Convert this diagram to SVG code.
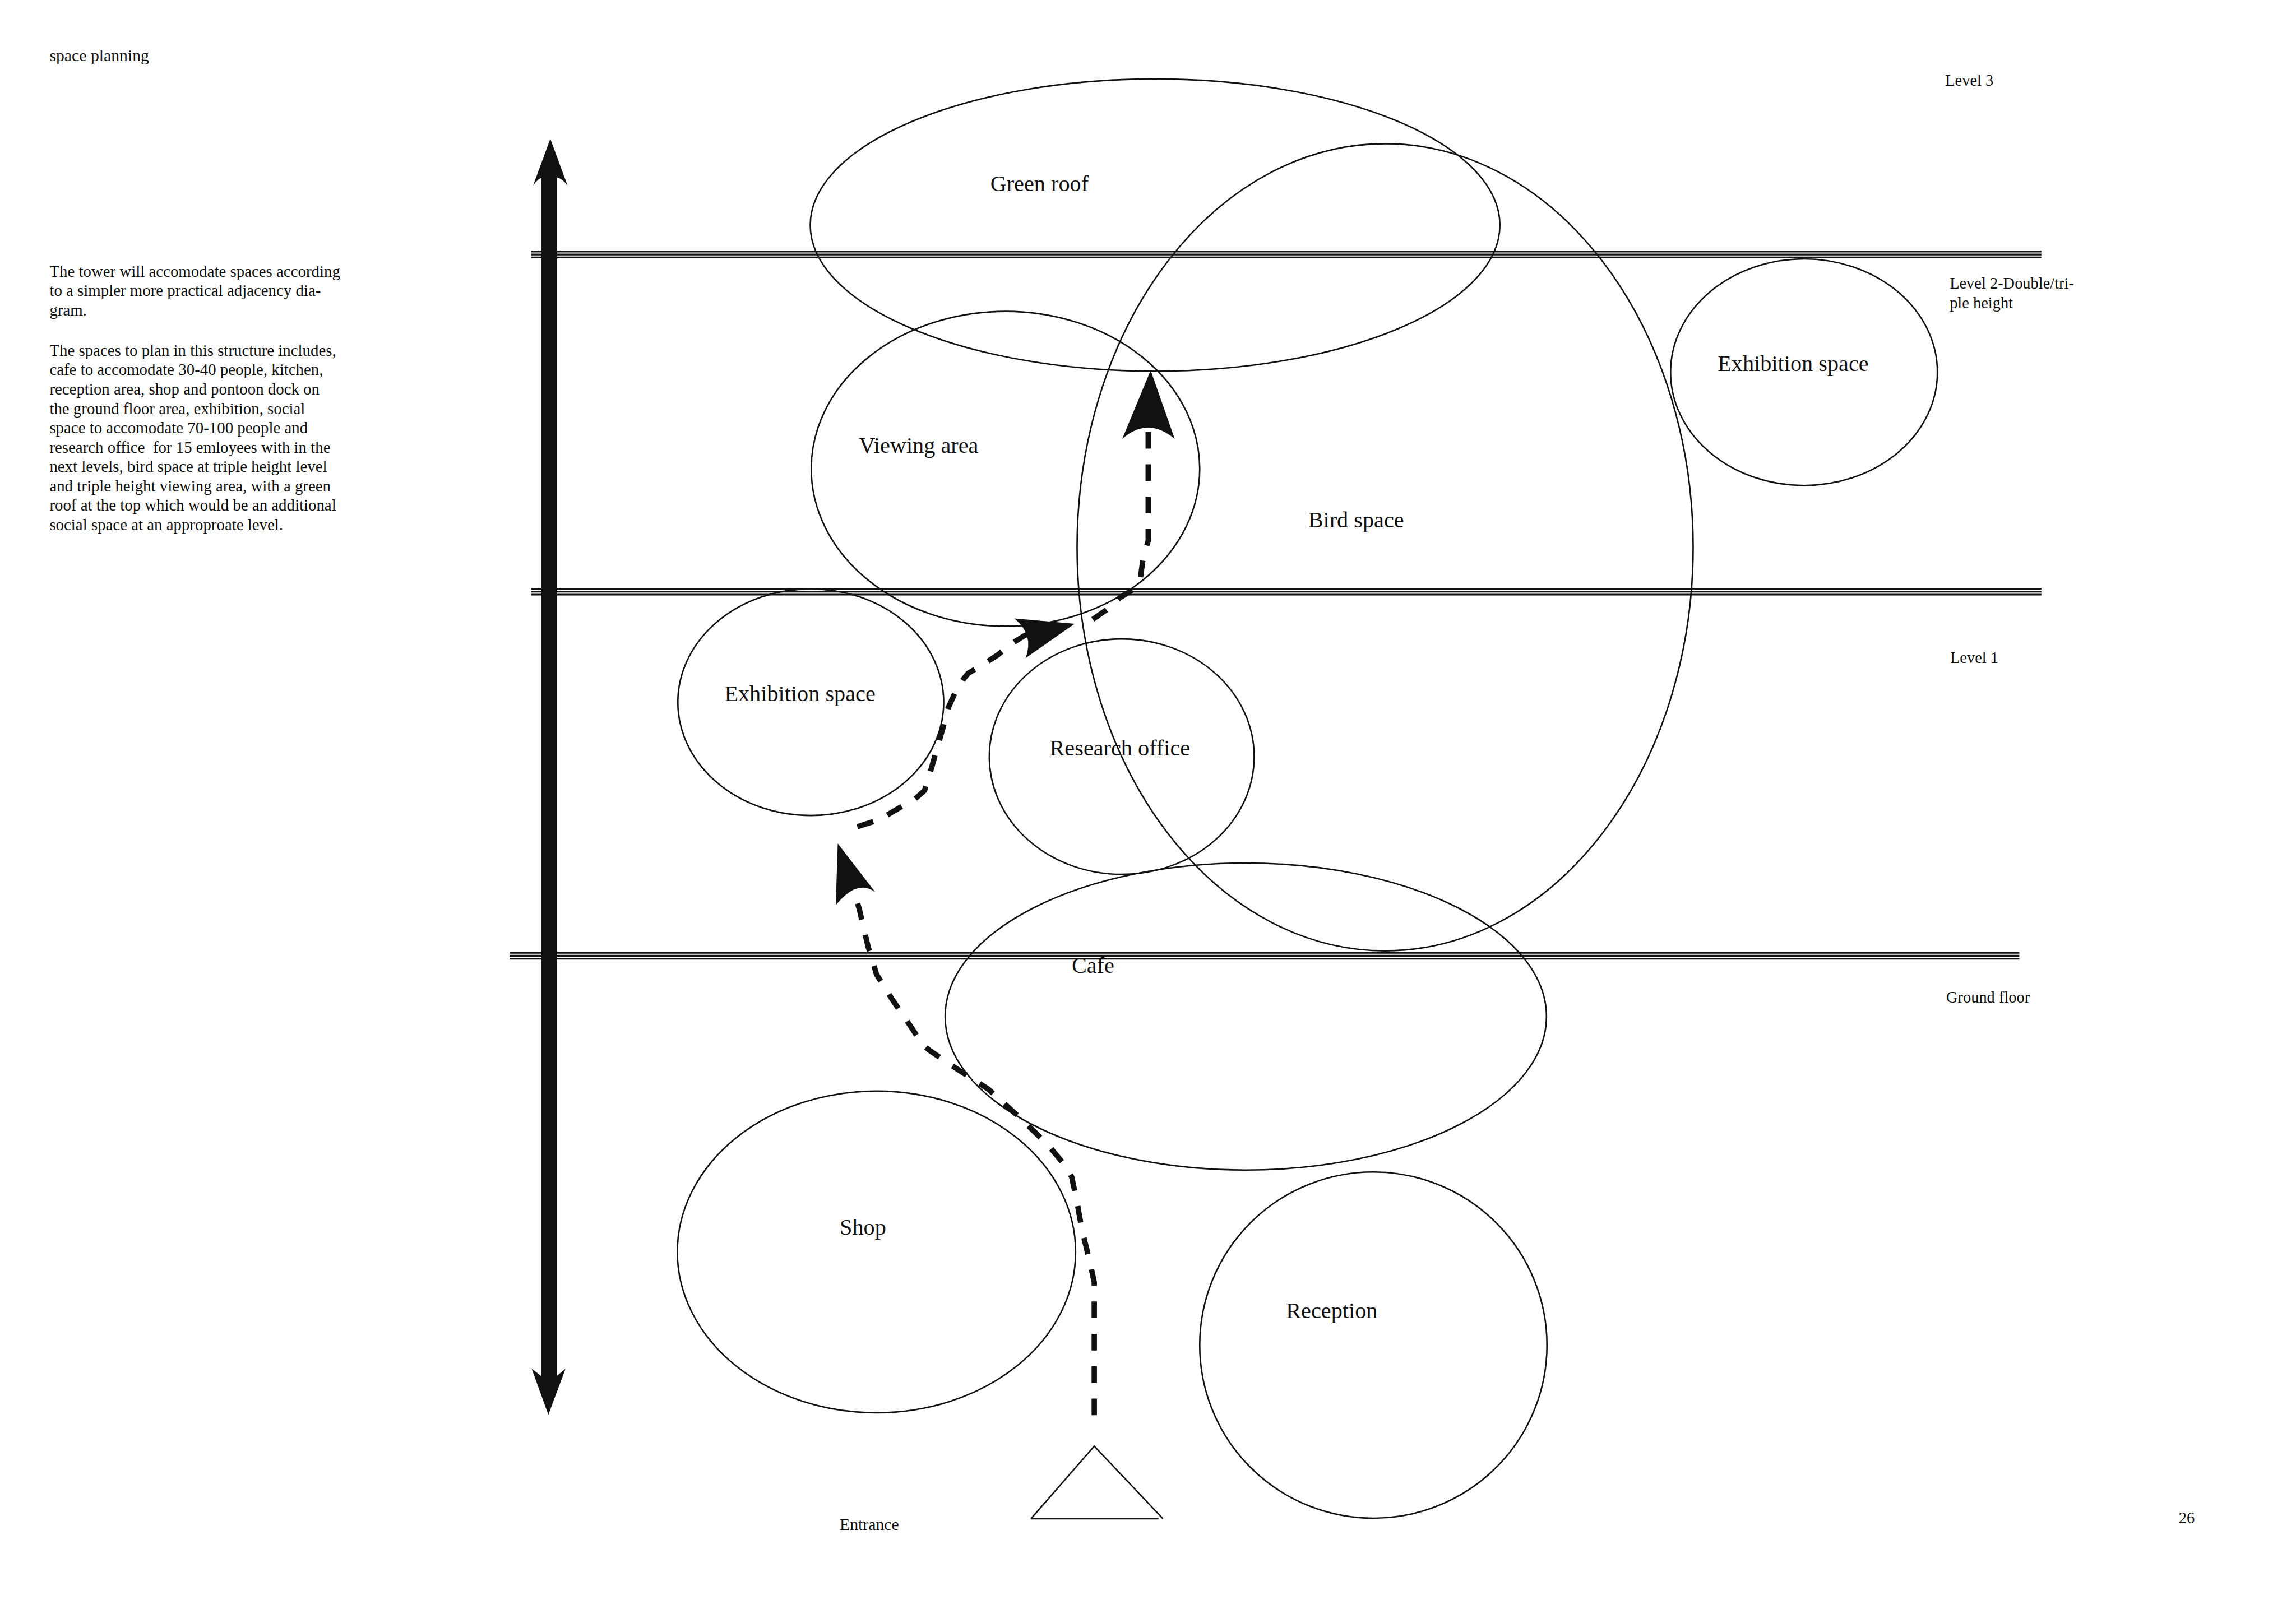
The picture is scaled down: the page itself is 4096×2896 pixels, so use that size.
<svg xmlns="http://www.w3.org/2000/svg" width="4096" height="2896" viewBox="0 0 4096 2896">
<style>
.el{fill:none;stroke:#111;stroke-width:3}
.lv{stroke:#111;stroke-width:3.5}
.dash{fill:none;stroke:#111;stroke-width:11;stroke-dasharray:34 32;stroke-linejoin:round}
.head{fill:#111;stroke:none}
.lbl{font-family:"Liberation Serif","Times New Roman",serif;font-size:46px;fill:#111}
.sm{font-family:"Liberation Serif","Times New Roman",serif;font-size:32.5px;fill:#111}
.body{font-family:"Liberation Serif","Times New Roman",serif;font-size:33px;fill:#111}
</style>
<rect width="4096" height="2896" fill="#fff"/>
<g transform="scale(0.875)">
<g id="page-text">
<text class="sm" x="101" y="125" style="font-size:34px">space planning</text>
<text class="body" xml:space="preserve"><tspan x="101" y="564">The tower will accomodate spaces according</tspan><tspan x="101" y="603.5">to a simpler more practical adjacency dia-</tspan><tspan x="101" y="643">gram.</tspan><tspan x="101" y="725.5">The spaces to plan in this structure includes,</tspan><tspan x="101" y="765">cafe to accomodate 30-40 people, kitchen,</tspan><tspan x="101" y="804.5">reception area, shop and pontoon dock on</tspan><tspan x="101" y="844">the ground floor area, exhibition, social</tspan><tspan x="101" y="883.5">space to accomodate 70-100 people and</tspan><tspan x="101" y="923">research office  for 15 emloyees with in the</tspan><tspan x="101" y="962.5">next levels, bird space at triple height level</tspan><tspan x="101" y="1002">and triple height viewing area, with a green</tspan><tspan x="101" y="1041.5">roof at the top which would be an additional</tspan><tspan x="101" y="1081">social space at an approproate level.</tspan></text>
<text class="sm" x="3966" y="175">Level 3</text>
<text class="sm"><tspan x="3975" y="589">Level 2-Double/tri-</tspan><tspan x="3975" y="628">ple height</tspan></text>
<text class="sm" x="3976" y="1352">Level 1</text>
<text class="sm" x="3968" y="2045">Ground floor</text>
<text class="sm" x="1712" y="3120" style="font-size:34px">Entrance</text>
<text class="sm" x="4442" y="3106">26</text>
</g>
<g id="levels">
<line class="lv" x1="1083" y1="513" x2="4162" y2="513"/>
<line class="lv" x1="1083" y1="519" x2="4162" y2="519"/>
<line class="lv" x1="1083" y1="525" x2="4162" y2="525"/>
<line class="lv" x1="1083" y1="1200.5" x2="4162" y2="1200.5"/>
<line class="lv" x1="1083" y1="1206.5" x2="4162" y2="1206.5"/>
<line class="lv" x1="1083" y1="1212.5" x2="4162" y2="1212.5"/>
<line class="lv" x1="1039" y1="1943" x2="4117" y2="1943"/>
<line class="lv" x1="1039" y1="1949" x2="4117" y2="1949"/>
<line class="lv" x1="1039" y1="1955" x2="4117" y2="1955"/>
</g>
<g id="height-arrow">
<rect x="1104" y="360" width="32" height="2450" fill="#111"/>
<path class="head" d="M1122,283 L1157,378 Q1146,364 1136,362 L1106,362 Q1097,364 1087,378 Z"/>
<path class="head" d="M1084,2791 Q1096,2800 1103,2806 L1135,2806 Q1142,2800 1153,2791 L1118,2885 Z"/>
</g>
<g id="green-roof"><ellipse class="el" cx="2355" cy="459" rx="703" ry="298"/><text class="lbl" x="2019" y="390">Green roof</text></g>
<g id="bird-space"><ellipse class="el" cx="2824" cy="1116" rx="628" ry="823"/><text class="lbl" x="2667" y="1075">Bird space</text></g>
<g id="exhibition-space-2"><ellipse class="el" cx="3678" cy="759" rx="272" ry="231"/><text class="lbl" x="3502" y="757">Exhibition space</text></g>
<g id="viewing-area"><ellipse class="el" cx="2050" cy="956" rx="396" ry="321"/><text class="lbl" x="1751" y="923">Viewing area</text></g>
<g id="exhibition-space-1"><ellipse class="el" cx="1653" cy="1432" rx="271" ry="231"/><text class="lbl" x="1477" y="1430">Exhibition space</text></g>
<g id="research-office"><ellipse class="el" cx="2287" cy="1543" rx="270" ry="240"/><text class="lbl" x="2140" y="1540">Research office</text></g>
<g id="cafe"><ellipse class="el" cx="2540" cy="2073" rx="613" ry="313"/><text class="lbl" x="2185" y="1984">Cafe</text></g>
<g id="shop"><ellipse class="el" cx="1787" cy="2553" rx="406" ry="328"/><text class="lbl" x="1712" y="2518">Shop</text></g>
<g id="reception"><ellipse class="el" cx="2800" cy="2743" rx="354" ry="353"/><text class="lbl" x="2622" y="2688">Reception</text></g>
<g id="entrance"><path class="el" d="M2102,3097 L2231,2949 L2371,3097 M2102,3097 L2362,3097"/></g>
<g id="connectors">
<polyline class="dash" points="2231,2886 2231,2615 2221,2569 2206,2508 2195,2447 2185,2400 2171,2376 2136,2334 2078,2278 2015,2221 1953,2181 1895,2142 1881,2130 1854,2089 1819,2038 1787,1987 1781,1966 1770,1931 1752,1854 1746,1834"/>
<path class="head" d="M1708,1720 L1785,1820 Q1749,1791 1704,1846 Z"/>
<polyline class="dash" points="1748,1686 1760,1682 1792,1672 1824,1653 1866,1629 1885,1612 1898,1570 1926,1472 1933,1444 1949,1409 1965,1384 1974,1373 2003,1356 2035,1335 2060,1314 2089,1296 2100,1292"/>
<path class="head" d="M2191,1272 L2068,1261 Q2109,1294 2091,1342 Z"/>
<polyline class="dash" points="2228,1263 2261,1240 2283,1219 2306,1205 2325,1180 2331,1135 2341,1103 2341,880"/>
<path class="head" d="M2346,755 L2395,895 Q2340,849 2288,895 Z"/>
</g>
</g>
</svg>
